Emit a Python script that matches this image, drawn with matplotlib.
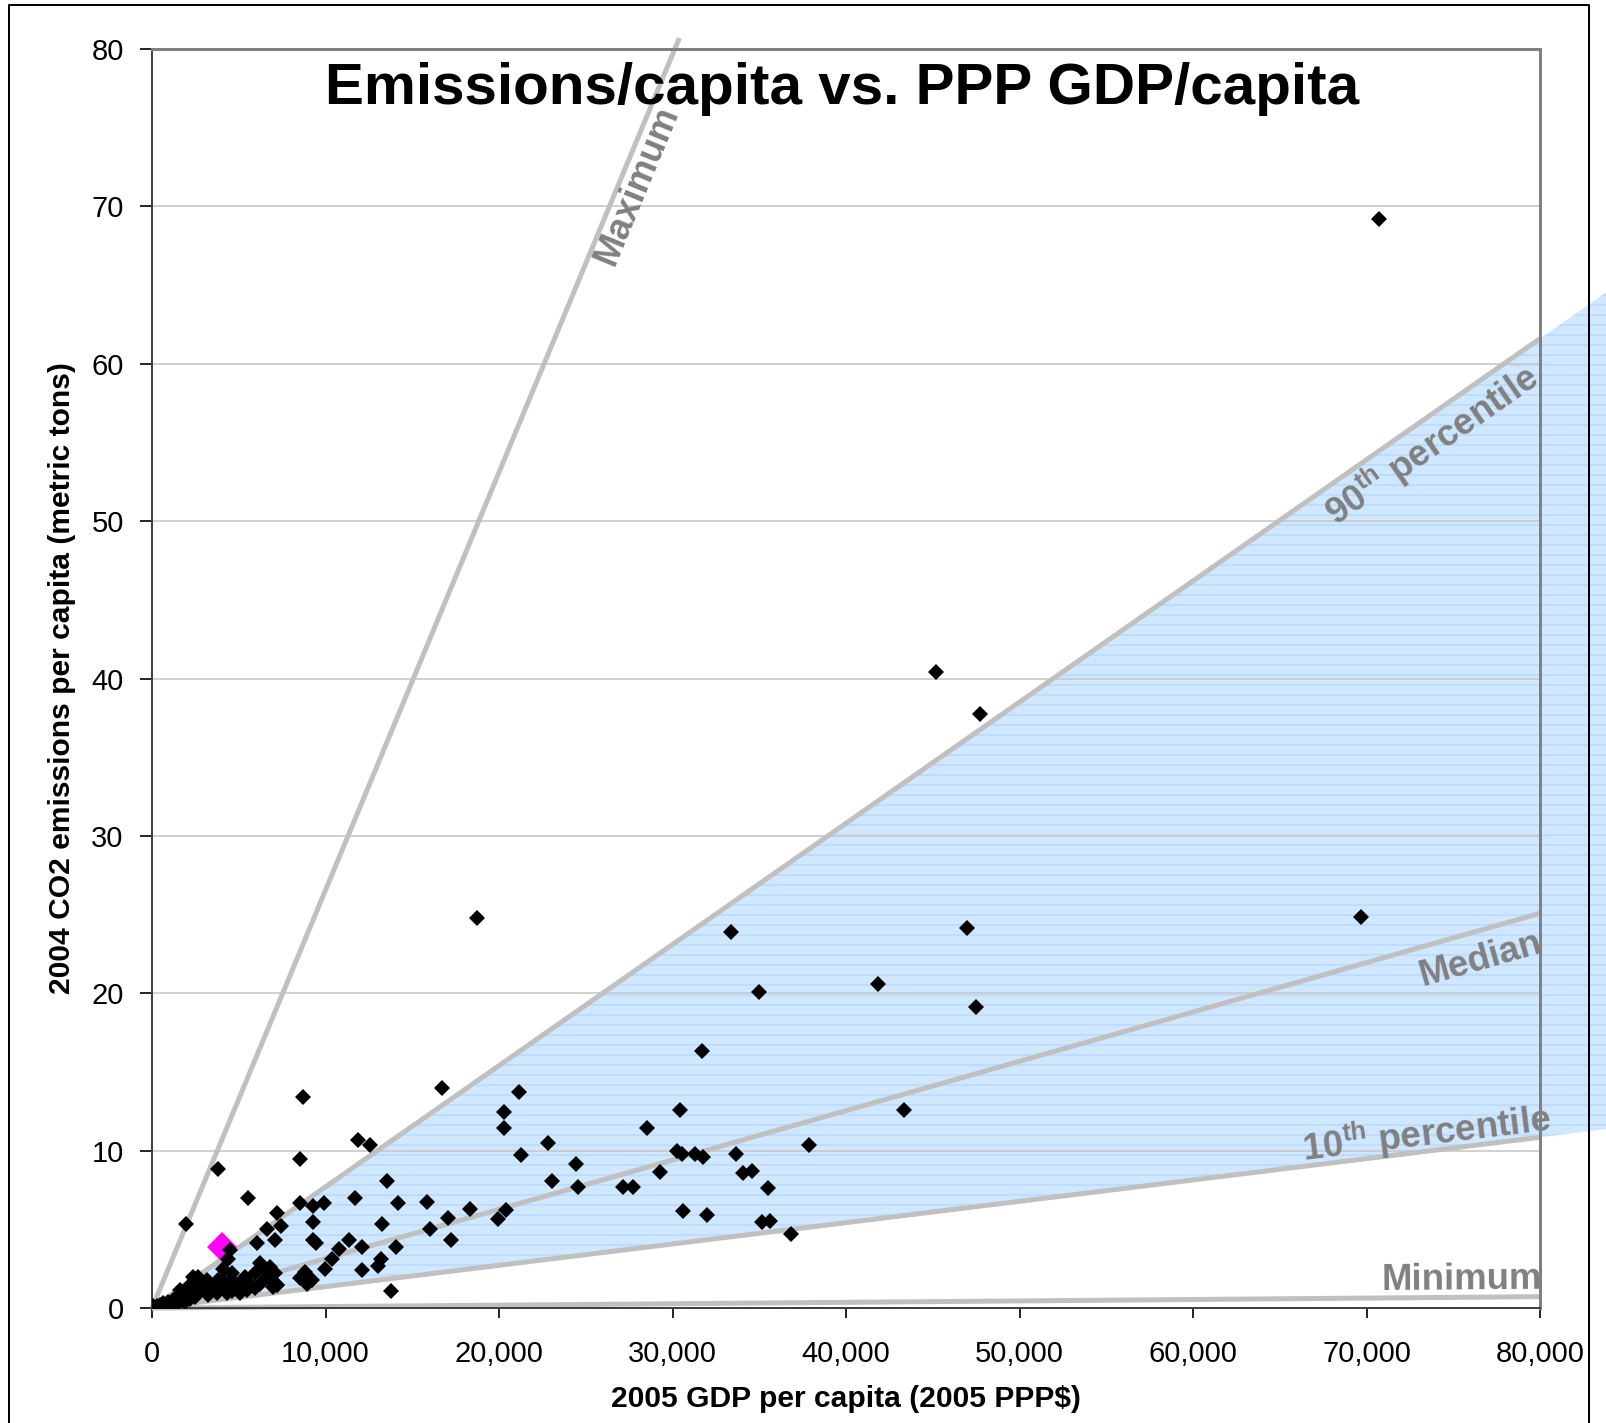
import numpy as np
import matplotlib.pyplot as plt
from matplotlib.lines import Line2D
from matplotlib.patches import Polygon

plt.rcParams['font.family'] = ['Liberation Sans', 'DejaVu Sans']
plt.rcParams['mathtext.fontset'] = 'custom'
plt.rcParams['mathtext.rm'] = 'Liberation Sans'
plt.rcParams['mathtext.bf'] = 'Liberation Sans:bold'
plt.rcParams['hatch.linewidth'] = 0.7

###################################################
# DATA
###################################################
# 2005 GDP per capita (PPP$) and 2004 CO2 emissions per capita (t)
gdp = [70700, 45200, 47700, 69700, 18750, 33390, 46970, 34980, 41830, 47500,
       31680, 16700, 8700, 21170, 20300, 30430, 43340, 20300, 28510, 11890,
       12570, 22820, 37890, 21270, 8530, 3800, 24440, 30240, 30530, 31300,
       31740, 33640, 29280, 34080, 34570, 13525, 23040, 24570, 27170, 27740,
       35520, 5550, 11700, 15830, 14200, 8530, 9260, 9930, 18330, 7190,
       20400, 30590, 32010, 19960, 17040, 35140, 35620, 9260, 1960, 13240,
       7420, 6610, 16020, 36810, 17230, 11350, 9300, 9430, 6030, 7090,
       10800, 12120, 14060, 4490, 10360, 13200, 13050, 9970, 12120, 4400,
       4070, 4590, 6220, 13760, 8800, 8530, 9200, 8920, 7190, 7090,
       6800, 2380, 2670, 3150, 5360, 6610, 5940, 6420, 5650, 4880,
       5070, 4110, 4400, 3440, 3730, 3250, 2770, 2960, 2090, 2190,
       1610, 1810, 1420, 1710, 1230, 940, 650, 460, 270, 80,
       1130, 1420, 850, 1900, 2190, 2480, 2380, 3820, 4110, 4590,
       2770, 4300, 4590, 5070, 5460, 5940, 6230, 6900, 6990, 7230]
co2 = [69.2, 40.4, 37.75, 24.85, 24.75, 23.9, 24.15, 20.05, 20.6, 19.1,
       16.3, 14.0, 13.4, 13.75, 12.45, 12.55, 12.55, 11.45, 11.45, 10.65,
       10.35, 10.5, 10.35, 9.7, 9.45, 8.85, 9.15, 9.95, 9.8, 9.8,
       9.6, 9.8, 8.65, 8.55, 8.7, 8.1, 8.05, 7.7, 7.7, 7.7,
       7.6, 7.0, 7.0, 6.75, 6.65, 6.65, 6.45, 6.65, 6.3, 6.05,
       6.2, 6.15, 5.9, 5.65, 5.7, 5.45, 5.55, 5.45, 5.35, 5.35,
       5.2, 5.05, 5.05, 4.7, 4.3, 4.35, 4.3, 4.1, 4.1, 4.35,
       3.75, 3.85, 3.85, 3.7, 3.1, 3.1, 2.7, 2.5, 2.4, 3.1,
       2.5, 2.2, 2.85, 1.1, 2.3, 1.9, 1.8, 1.55, 1.45, 2.2,
       2.6, 2.0, 2.0, 1.8, 2.0, 2.0, 2.2, 2.4, 1.55, 1.35,
       1.45, 1.35, 1.45, 1.25, 0.95, 0.85, 1.15, 1.35, 1.35, 1.05,
       1.15, 0.95, 0.7, 0.6, 0.5, 0.4, 0.3, 0.2, 0.15, 0.1,
       0.2, 0.25, 0.1, 0.4, 0.6, 0.7, 0.95, 1.8, 1.8, 1.8,
       1.55, 0.95, 1.05, 0.95, 1.15, 1.25, 1.55, 1.8, 1.35, 1.45]

# highlighted country (magenta)
highlight_gdp = [4020]
highlight_co2 = [3.88]

# reference lines through the origin: emissions per $ of GDP
ref_names = ['Maximum', '90$^{\\mathbf{th}}$ percentile', 'Median',
             '10$^{\\mathbf{th}}$ percentile', 'Minimum']
ref_slopes = [0.002655, 0.000770, 0.0003135, 0.0001356, 0.0000090]

x_ticks = [0, 10000, 20000, 30000, 40000, 50000, 60000, 70000, 80000]
x_tick_labels = ['0', '10,000', '20,000', '30,000', '40,000', '50,000',
                 '60,000', '70,000', '80,000']
y_ticks = [0, 10, 20, 30, 40, 50, 60, 70, 80]


###################################################
# PLOT
###################################################
W, H, DPI = 1606, 1423, 120
fig = plt.figure(figsize=(W / DPI, H / DPI), dpi=DPI)
ax = fig.add_axes([152 / W, 1 - 1308 / H, (1540 - 152) / W, (1308 - 49) / H])
ax.set_xlim(0, 80000)
ax.set_ylim(0, 80)

line_col = '#C0C0C0'
label_col = '#808080'

# shaded band between 10th and 90th percentile (runs past the plot edge)
x_band = 86000
band = Polygon([(0, 0), (x_band, ref_slopes[1] * x_band), (x_band, ref_slopes[3] * x_band)],
               closed=True, facecolor='#D0E8FF', edgecolor='#B0D5FF', hatch='--',
               linewidth=0, zorder=0.3, clip_on=False)
ax.add_patch(band)

# reference lines
for i, k in enumerate(ref_slopes):
    x_end = 80.7 / k if i == 0 else 80000
    ax.plot([0, x_end], [0, k * x_end], color=line_col, lw=3.0,
            solid_capstyle='butt', zorder=2, clip_on=False)


def line_angle(k):
    p0 = ax.transData.transform((0, 0))
    p1 = ax.transData.transform((10000, 10000 * k))
    return np.degrees(np.arctan2(p1[1] - p0[1], p1[0] - p0[0]))


# line labels: (x, y, ha, va) anchors
label_anchor = [(28900, 76.7, 'right', 'top'),
                (78900, 60.6, 'right', 'top'),
                (79800, 24.3, 'right', 'top'),
                (80700, 11.3, 'right', 'baseline'),
                (80100, 1.2, 'right', 'baseline')]
for name, k, (lx, ly, ha, va) in zip(ref_names, ref_slopes, label_anchor):
    ax.text(lx, ly, name, rotation=line_angle(k), rotation_mode='anchor',
            ha=ha, va=va, fontsize=22, fontweight='bold', color=label_col,
            zorder=2.2, clip_on=False)

# points
ax.plot(highlight_gdp, highlight_co2, linestyle='none', marker='D', markersize=12.5,
        color='#FF00FF', markeredgewidth=0, zorder=3)
ax.plot(gdp, co2, linestyle='none', marker='D', markersize=6.8,
        color='black', markeredgewidth=0, zorder=3.1)

# axes styling
ax.set_axisbelow(True)
ax.yaxis.grid(True, color='#C8C8C8', lw=1.0)
ax.set_xticks(x_ticks)
ax.set_xticklabels(x_tick_labels)
ax.set_yticks(y_ticks)
ax.tick_params(axis='both', labelsize=17.5, colors='black', width=1.0)
ax.tick_params(axis='x', length=6, pad=13)
ax.tick_params(axis='y', length=7, pad=10)
for side in ['top', 'right']:
    ax.spines[side].set_color('#808080')
    ax.spines[side].set_linewidth(1.8)
for side in ['left', 'bottom']:
    ax.spines[side].set_color('#404040')
    ax.spines[side].set_linewidth(1.2)

ax.set_xlabel('2005 GDP per capita (2005 PPP$)', fontsize=18, fontweight='bold')
ax.xaxis.set_label_coords(0.5, -0.061)
ax.set_ylabel('2004 CO2 emissions per capita (metric tons)', fontsize=18, fontweight='bold')
ax.yaxis.set_label_coords(-0.055, 0.5)

fig.text(842 / W, 1 - 89 / H, 'Emissions/capita vs. PPP GDP/capita', ha='center', va='center',
         fontsize=35, fontweight='bold', color='black')

# outer chart frame
fig.add_artist(Line2D([9 / W, 9 / W, 1589 / W, 1589 / W], [-0.01, 1 - 5 / H, 1 - 5 / H, -0.01],
                      transform=fig.transFigure, color='black', lw=1.2, zorder=10))

plt.savefig('out.png', dpi=DPI)
